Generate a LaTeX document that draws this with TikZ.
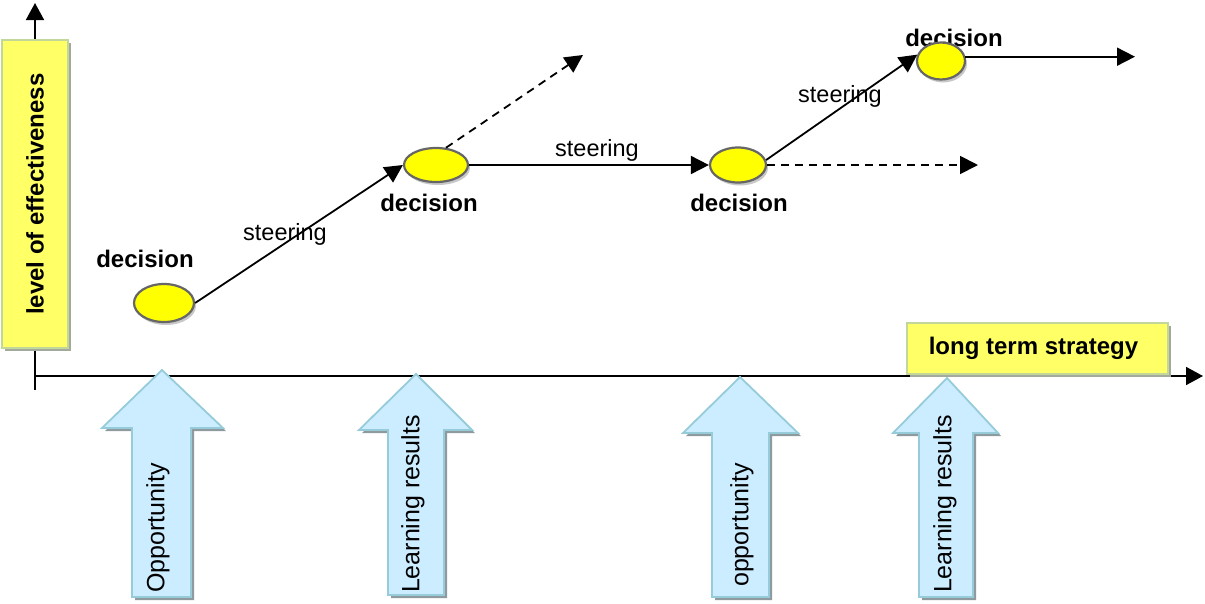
\documentclass[tikz,border=0pt]{standalone}
\usepackage{fontspec}
\usepackage{graphicx}
\setmainfont{Liberation Sans}
\usetikzlibrary{arrows.meta,shapes.geometric,shadows}

\definecolor{boxyellow}{HTML}{FFFF66}
\definecolor{boxedge}{HTML}{C4D79B}
\definecolor{boxshade}{HTML}{A3AA9C}
\definecolor{dotyellow}{HTML}{FFFF00}
\definecolor{dotedge}{HTML}{666666}
\definecolor{dotshade}{HTML}{C8C8C8}
\definecolor{upfill}{HTML}{CCECFF}
\definecolor{upedge}{HTML}{96CCD9}
\definecolor{upshade}{HTML}{8E9A9E}

% big upward block arrow: tip x, tip y, head left, head right, head base,
% shaft left, shaft right, foot
\newcommand\bigup[8]{%
  \fill[upshade, shift={(3,3)}] (#1,#2) -- (#4,#5) -- (#7,#5) -- (#7,#8)
    -- (#6,#8) -- (#6,#5) -- (#3,#5) -- cycle;
  \filldraw[uparrow] (#1,#2) -- (#4,#5) -- (#7,#5) -- (#7,#8)
    -- (#6,#8) -- (#6,#5) -- (#3,#5) -- cycle;
}

\begin{document}
\begin{tikzpicture}[x=1pt,y=-1pt,
  txt/.style={font=\fontsize{23.5}{28}\selectfont, inner sep=0pt},
  boldtxt/.style={font=\fontsize{24}{28}\selectfont\bfseries, inner sep=0pt},
  uptxt/.style={font=\fontsize{25}{30}\selectfont, inner sep=0pt, rotate=90},
  labelbox/.style={draw=boxedge, fill=boxyellow, line width=1.8pt, inner sep=0pt,
    font=\fontsize{24}{28}\selectfont\bfseries,
    drop shadow={shadow xshift=3pt, shadow yshift=-3pt, fill=boxshade, opacity=1}},
  dot/.style={ellipse, draw=dotedge, fill=dotyellow, line width=2.2pt, inner sep=0pt,
    drop shadow={shadow xshift=2pt, shadow yshift=-3pt, fill=dotshade, opacity=1}},
  link/.style={line width=1.8pt, -{Triangle[length=18pt,width=18pt]}},
  dashlink/.style={link, dash pattern=on 8pt off 6pt},
  axis/.style={line width=1.7pt, -{Triangle[length=17pt,width=18pt]}},
  uparrow/.style={draw=upedge, fill=upfill, line width=1.8pt, line join=miter}]

\useasboundingbox (0,0) rectangle (1205,603);

% axes
\coordinate (ybot) at (35,390);
\coordinate (ytop) at (35,3);
\coordinate (orig) at (35,376);
\coordinate (xend) at (1203,376);
\draw[axis] (ybot) -- (ytop);
\draw[axis] (orig) -- (xend);

% inputs from below
\bigup{162}{370}{102}{223}{428}{132}{191}{597}
\bigup{416}{374}{359}{472}{430}{388}{444}{595}
\bigup{740}{377}{683}{798}{433}{712}{769}{597}
\bigup{947}{378}{893}{998}{433}{919}{973}{597}
\node[uptxt] (t1) at (158,528) {Opportunity};
\node[uptxt] (t2) at (413,504) {Learning results};
\node[uptxt] (t3) at (742,525) {opportunity};
\node[uptxt] (t4) at (945,504) {Learning results};

% labelled boxes
\node[labelbox, minimum width=66pt, minimum height=308pt] (lvl) at (35,194)
  {\rotatebox{90}{level of effectiveness}};
\node[labelbox, minimum width=261pt, minimum height=51pt] (lts) at (1037.5,348.5)
  {\hspace*{-8pt}long term strategy};

% text labels
\node[boldtxt] (l1) at (145,259) {decision};
\node[boldtxt] (l2) at (429,203) {decision};
\node[boldtxt] (l3) at (739,203) {decision};
\node[boldtxt] (l4) at (954,38) {decision};
\node[txt] (s1) at (285,234) {steering};
\node[txt] (s2) at (597,150) {steering};
\node[txt] (s3) at (840,96) {steering};

% decision points
\node[dot, minimum width=60pt, minimum height=38pt] (e1) at (164,303) {};
\node[dot, minimum width=64pt, minimum height=34pt] (e2) at (436,165) {};
\node[dot, minimum width=56pt, minimum height=35pt] (e3) at (738,165) {};
\node[dot, minimum width=48pt, minimum height=37pt] (e4) at (941,61) {};

% paths between decisions
\coordinate (d1) at (583,55);
\coordinate (d2) at (978,165);
\coordinate (f) at (1135,57);
\draw[link] (e1.east) -- (e2.west);
\draw[dashlink] (e2.60) -- (d1);
\draw[link] (e2.east) -- (e3.west);
\draw[link] (e3.10) -- (e4.165);
\draw[dashlink] (e3.east) -- (d2);
\draw[link] (e4.10) -- (e4.10 -| f);
\end{tikzpicture}
\end{document}
